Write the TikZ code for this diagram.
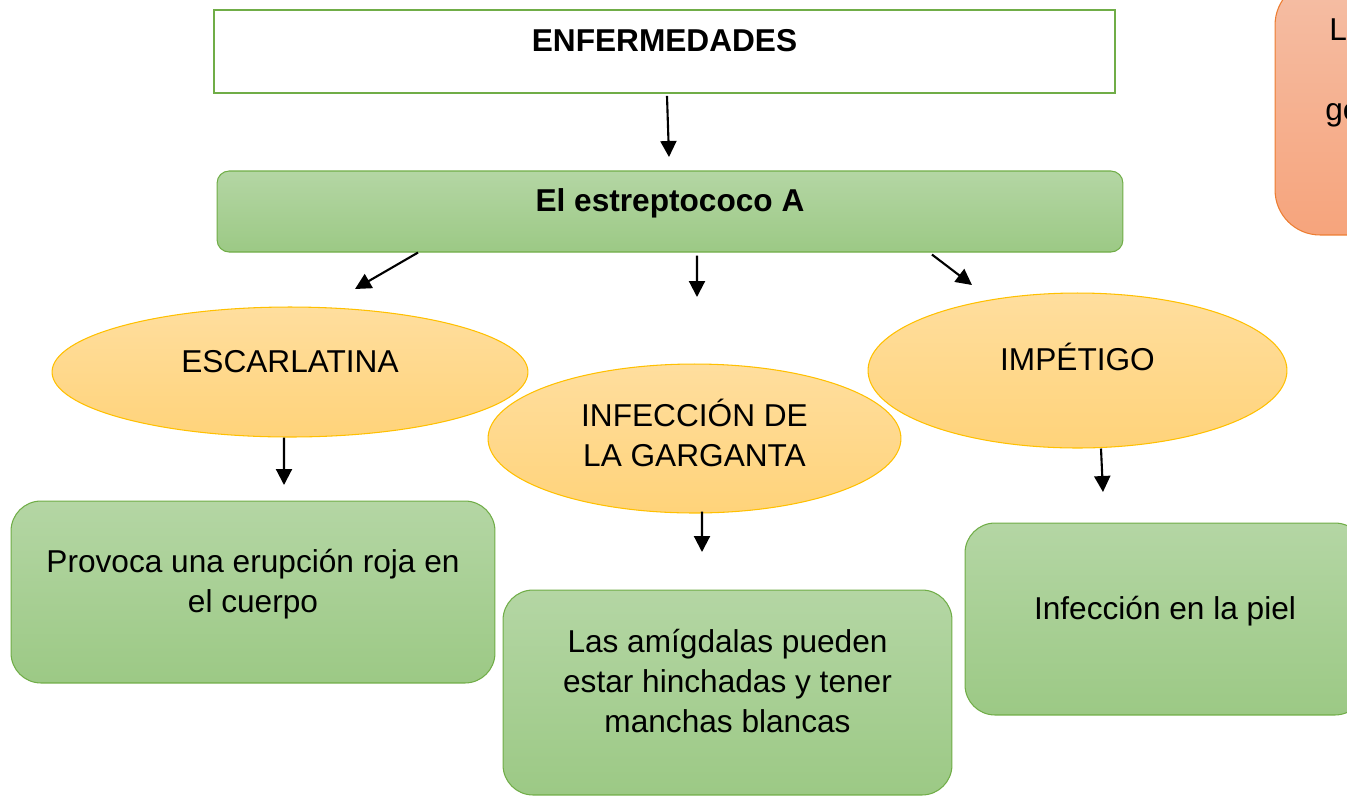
\documentclass[tikz,border=0pt]{standalone}
\usepackage{fontspec}
\setmainfont{Liberation Sans}
\usetikzlibrary{arrows.meta,shapes.geometric}

\definecolor{verde}{HTML}{70AD47}
\definecolor{verdearriba}{HTML}{B4D6A4}
\definecolor{verdeabajo}{HTML}{9CC985}
\definecolor{oro}{HTML}{FFC000}
\definecolor{oroarriba}{HTML}{FFDE9E}
\definecolor{oroabajo}{HTML}{FFD37A}
\definecolor{naranja}{HTML}{ED7D31}
\definecolor{naranjaarriba}{HTML}{F5BEA5}
\definecolor{naranjaabajo}{HTML}{F6A47C}

\begin{document}
\begin{tikzpicture}[%
	x=0.02cm, y=-0.02cm,
	>={Triangle[length=3.2mm,width=3.2mm]},
	font=\fontsize{18}{22.5}\selectfont,
	linea/.style={text height=5mm, text depth=5mm},
	titulo/.style={draw=verde, line width=1.1pt, fill=white, font=\fontsize{18}{22.5}\selectfont\bfseries, linea},
	caja/.style={draw=verde, line width=0.6pt, top color=verdearriba, bottom color=verdeabajo, rounded corners=0.6cm, align=center},
	elipse/.style={ellipse, draw=oro, line width=0.6pt, top color=oroarriba, bottom color=oroabajo, align=center},
	nota/.style={draw=naranja, line width=0.6pt, top color=naranjaarriba, bottom color=naranjaabajo, rounded corners=0.9cm},
	flecha/.style={draw, line width=1.2pt, ->}
]

\useasboundingbox (0,0) rectangle (1347,796);
\clip (0,0) rectangle (1347,796);

\node[titulo, minimum width=18.02cm, minimum height=1.66cm] (enf) at (664.5,51.5) {ENFERMEDADES};
\node[caja, rounded corners=0.24cm, minimum width=18.12cm, minimum height=1.62cm, font=\fontsize{18}{22.5}\selectfont\bfseries, linea] (estr) at (670,211.5) {El estreptococo A};

\node[elipse, minimum width=9.52cm, minimum height=2.6cm, linea] (esc) at (290,372) {ESCARLATINA};
\node[elipse, minimum width=8.26cm, minimum height=2.98cm, text height=13mm, text depth=2mm] (gar) at (694.5,438.5) {INFECCIÓN DE\\LA GARGANTA};
\node[elipse, minimum width=8.38cm, minimum height=3.1cm, linea] (imp) at (1077.5,370.5) {IMPÉTIGO};

\node[caja, minimum width=9.68cm, minimum height=3.64cm, text height=13mm, text depth=5mm] (prov) at (253,592) {Provoca una erupción roja en\\el cuerpo};
\node[caja, minimum width=8.98cm, minimum height=4.1cm, text height=20.8mm, text depth=5mm] (amig) at (727.5,692.5) {Las amígdalas pueden\\estar hinchadas y tener\\manchas blancas};
\node[caja, minimum width=8cm, minimum height=3.84cm, linea] (piel) at (1165,619) {Infección en la piel};

\node[nota, minimum width=8.5cm, minimum height=5.1cm] (nota) at (1487.5,107.5) {};
\node[anchor=base west, inner sep=0pt] (nota1) at (1329,40) {L};
\node[anchor=base west, inner sep=0pt] (nota2) at (1325,120) {ge};

\coordinate (p1) at (669,157);
\coordinate (p2) at (355,289);
\coordinate (p3) at (697,297);
\coordinate (p4) at (972,285);
\coordinate (p5) at (284,485);
\coordinate (p6) at (702,552);
\coordinate (p7) at (1103,492);

\path[flecha] ([xshift=0.05cm,yshift=-0.04cm]enf.south) -- (p1);
\path[flecha] ([xshift=-5.04cm]estr.south) -- (p2);
\path[flecha] ([xshift=0.54cm,yshift=-0.06cm]estr.south) -- (p3);
\path[flecha] ([xshift=5.24cm,yshift=-0.04cm]estr.south) -- (p4);
\path[flecha] ([xshift=-0.12cm]esc.south) -- (p5);
\path[flecha] ([xshift=0.15cm,yshift=0.04cm]gar.south) -- (p6);
\path[flecha] ([xshift=0.47cm]imp.south) -- (p7);

\end{tikzpicture}
\end{document}
